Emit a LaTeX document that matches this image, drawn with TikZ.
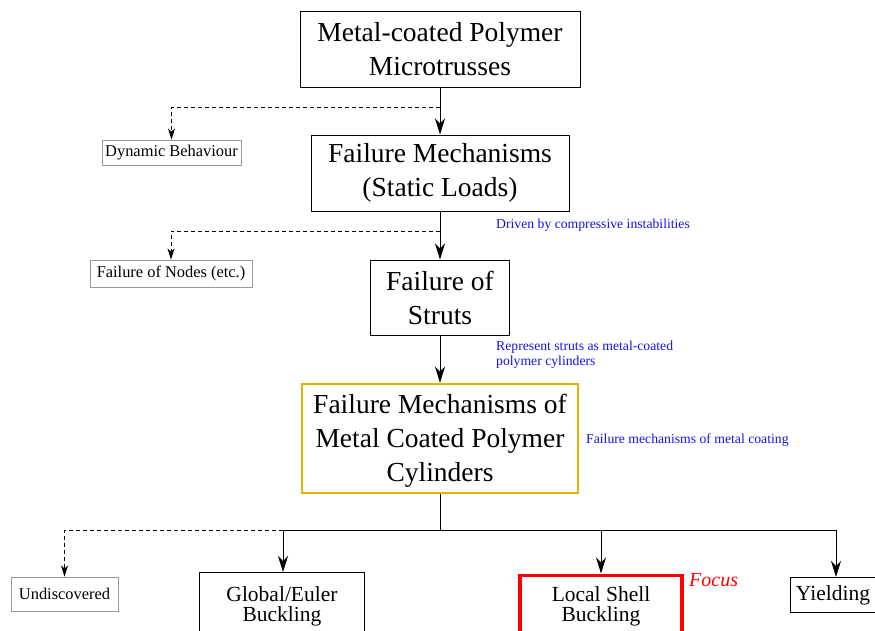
\documentclass[tikz,border=0pt]{standalone}
\usepackage{fontspec}
\setmainfont{Liberation Serif}
\usetikzlibrary{arrows.meta}
\definecolor{gold}{RGB}{230,180,0}
\definecolor{notecol}{RGB}{20,20,230}
\tikzset{
  bigbox/.style={draw=black, line width=1pt, align=center, inner sep=0pt, font=\fontsize{27.5}{34}\selectfont},
  midbox/.style={draw=black, line width=1pt, align=center, inner sep=0pt, font=\fontsize{21.5}{20}\selectfont},
  smallbox/.style={draw=gray!80, line width=0.9pt, align=center, inner sep=0pt, font=\fontsize{16.4}{18}\selectfont},
  note/.style={text=notecol, align=left, anchor=north west, inner sep=0pt, font=\fontsize{13.7}{15}\selectfont},
  mainarrow/.style={line width=1pt, -{Stealth[length=16pt,width=10pt,inset=5pt]}},
  dasharrow/.style={line width=0.8pt, dashed, dash pattern=on 4pt off 3pt, -{Stealth[length=11pt,width=7pt,inset=3pt]}},
}
\begin{document}
\begin{tikzpicture}[x=1pt,y=-1pt]
\useasboundingbox (0,0) rectangle (875,630);
\clip (0,0) rectangle (875,630);
% main column
\node[bigbox, minimum width=280pt, minimum height=76pt] (top) at (440,49) {Metal-coated Polymer\\Microtrusses};
\node[bigbox, minimum width=258pt, minimum height=76pt] (fm) at (440,173) {Failure Mechanisms\\(Static Loads)};
\node[bigbox, minimum width=139pt, minimum height=75pt] (fs) at (440,297.5) {Failure of\\Struts};
\node[bigbox, draw=gold, line width=2.6pt, minimum width=276pt, minimum height=109pt] (fmc) at (440,438.5) {};
\node[font=\fontsize{27.5}{34}\selectfont, align=center] (fmct) at (440,441) {Failure Mechanisms of\\Metal Coated Polymer\\Cylinders};
% side boxes
\node[smallbox, minimum width=139pt, minimum height=25pt] (dyn) at (171.5,152.5) {\raisebox{-1pt}{Dynamic Behaviour}};
\node[smallbox, minimum width=162pt, minimum height=27pt] (nodes) at (171,273.5) {\raisebox{-1pt}{Failure of Nodes (etc.)}};
\node[smallbox, minimum width=107pt, minimum height=34pt] (und) at (64.5,594) {\raisebox{-1pt}{Undiscovered}};
% bottom boxes (cut by page)
\node[midbox, minimum width=165pt, minimum height=80pt, anchor=north] (glob) at (281.5,572) {};
\node[midbox, draw=red, line width=3.5pt, minimum width=162pt, minimum height=80pt, anchor=north] (loc) at (601,573.5) {};
\node[midbox, minimum width=86pt, minimum height=35pt, anchor=north west] (yld) at (789.5,577) {\raisebox{-3.5pt}{Yielding}};
\node[font=\fontsize{21.5}{20}\selectfont, align=center, anchor=north] (globt) at (282,583) {Global/Euler\\Buckling};
\node[font=\fontsize{21.5}{20}\selectfont, align=center, anchor=north] (loct) at (601,583) {Local Shell\\Buckling};
\node[text=red, anchor=west, inner sep=0pt, font=\fontsize{20}{21}\selectfont\itshape] (focus) at (689,580) {Focus};
% notes
\node[note] (n1) at (496,219) {Driven by compressive instabilities};
\node[note] (n2) at (496,341) {Represent struts as metal-coated\\polymer cylinders};
\node[note] (n3) at (586,434) {Failure mechanisms of metal coating};
% connectors
\coordinate (j1) at (440,107);
\coordinate (j2) at (440,231);
\coordinate (j3) at (440,530);
\coordinate (jl) at (283,530);
\coordinate (jr) at (836,530);
\coordinate (jm) at (601,530);
\coordinate (gt) at (283,572);
\coordinate (yt) at (836,577);
\draw[mainarrow] (top.south) -- (fm.north);
\draw[dasharrow] (j1) -| (dyn.north);
\draw[mainarrow] (fm.south) -- (fs.north);
\draw[dasharrow] (j2) -| (nodes.north);
\draw[mainarrow] (fs.south) -- (fmc.north);
\draw[line width=1pt] (fmc.south) -- (j3);
\draw[line width=1pt] (jl) -- (jr);
\draw[dasharrow] (jl) -| (und.north);
\draw[mainarrow] (jl) -- (gt);
\draw[mainarrow] (jm) -- (loc.north);
\draw[mainarrow] (jr) -- (yt);
\end{tikzpicture}
\end{document}
